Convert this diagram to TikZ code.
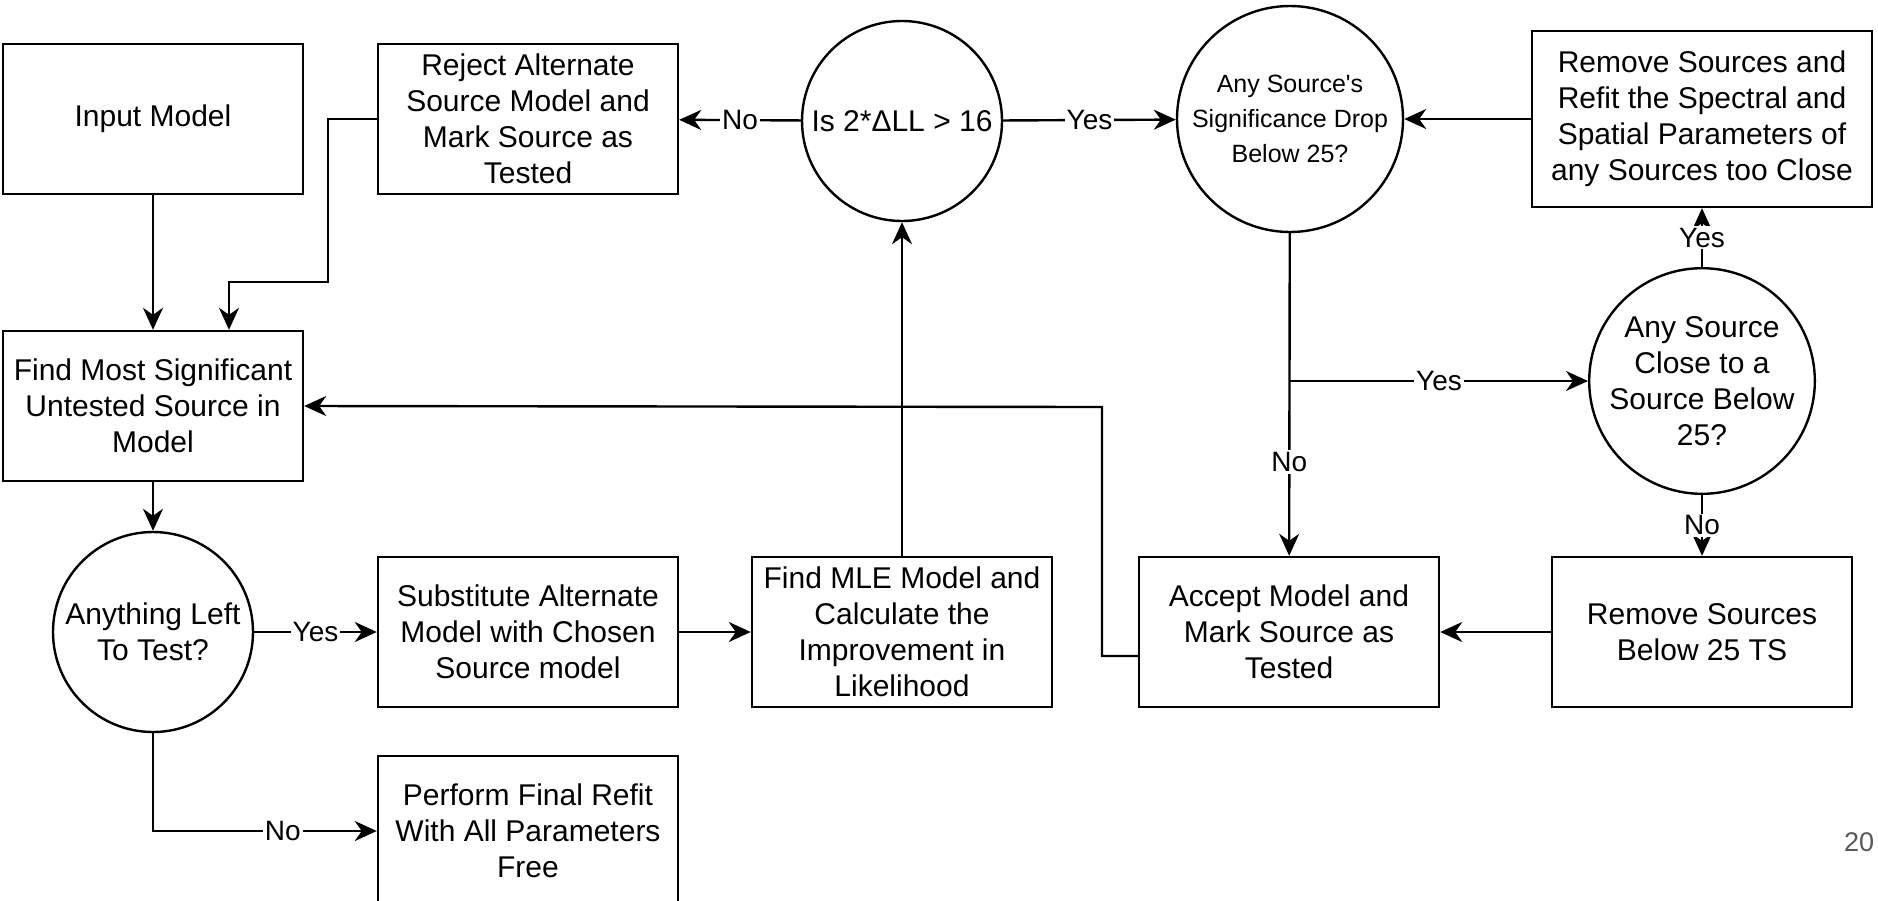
\documentclass[tikz,border=0pt]{standalone}
\usepackage{fontspec}
\setmainfont{Liberation Sans}
\usetikzlibrary{arrows.meta}

\begin{document}
\begin{tikzpicture}[x=0.5pt,y=-0.5pt,line width=1.2pt,
    box/.style={draw, rectangle, minimum width=150pt, minimum height=75pt, inner sep=0pt, align=center, font=\fontsize{15}{18}\selectfont},
    ask/.style={draw, circle, minimum size=100pt, inner sep=0pt, align=center, font=\fontsize{15}{18}\selectfont},
    flow/.style={-{Stealth[length=11pt,width=10pt,inset=3.5pt]}},
    lbl/.style={fill=white, inner sep=1pt, font=\fontsize{14}{16}\selectfont}]
     \useasboundingbox (0,0) rectangle (1878,900);
     \clip (0,0) rectangle (1878,900);

     \node[box] (inmodel) at (153,119) {Input Model};
     \node[box] (reject) at (528,119) {Reject Alternate\\Source Model and\\Mark Source as\\Tested};
     \node[ask] (isdll) at (902,121) {Is 2*ΔLL > 16};
     \node[ask, minimum size=113pt, font=\fontsize{12.5}{17.5}\selectfont] (drop) at (1290,119) {Any Source\textquotesingle s\\Significance Drop\\Below 25?};
     \node[box, minimum width=170pt, minimum height=88pt] (refit) at (1702,119) {Remove Sources and\\Refit the Spectral and\\Spatial Parameters of\\any Sources too Close};

     \node[box] (findsrc) at (153,406) {Find Most Significant\\Untested Source in\\Model};
     \node[ask] (close) at (1702,381) {Any Source\\Close to a\\Source Below\\25?};

     \node[ask] (anyleft) at (153,632) {Anything Left\\To Test?};
     \node[box] (subst) at (528,632) {Substitute Alternate\\Model with Chosen\\Source model};
     \node[box] (mle) at (902,632) {Find MLE Model and\\Calculate the\\Improvement in\\Likelihood};
     \node[box] (accept) at (1289,632) {Accept Model and\\Mark Source as\\Tested};
     \node[box] (remove) at (1702,632) {Remove Sources\\Below 25 TS};
     \node[box] (final) at (528,831) {Perform Final Refit\\With All Parameters\\Free};

     \node[text=black!65, font=\fontsize{13.5}{16}\selectfont] (pnum) at (1859,842) {20};

     \draw[flow] (inmodel) -- (findsrc);
     \draw[flow] (reject.west) -| (328,282) -| ([xshift=38pt]findsrc.north);
     \draw[flow] (isdll) -- node[lbl]{No} (reject);
     \draw[flow] (isdll) -- node[lbl]{Yes} (drop);
     \draw[flow] (refit) -- (drop);
     \draw[flow] (drop) -- node[lbl, pos=0.71]{No} (accept);
     \draw[flow] (drop.south |- close.west) -- node[lbl]{Yes} (close);
     \draw[flow] (close) -- node[lbl]{Yes} (refit);
     \draw[flow] (close) -- node[lbl]{No} (remove);
     \draw[flow] (remove) -- (accept);
     \draw[flow] ([yshift=-12pt]accept.west) -| (1102,407) -- (findsrc.east);
     \draw[flow] (findsrc) -- (anyleft);
     \draw[flow] (anyleft) -- node[lbl]{Yes} (subst);
     \draw[flow] (subst) -- (mle);
     \draw[flow] (mle) -- (isdll);
     \draw[flow] (anyleft.south) |- node[lbl, pos=0.79]{No} (final.west);
\end{tikzpicture}
\end{document}
